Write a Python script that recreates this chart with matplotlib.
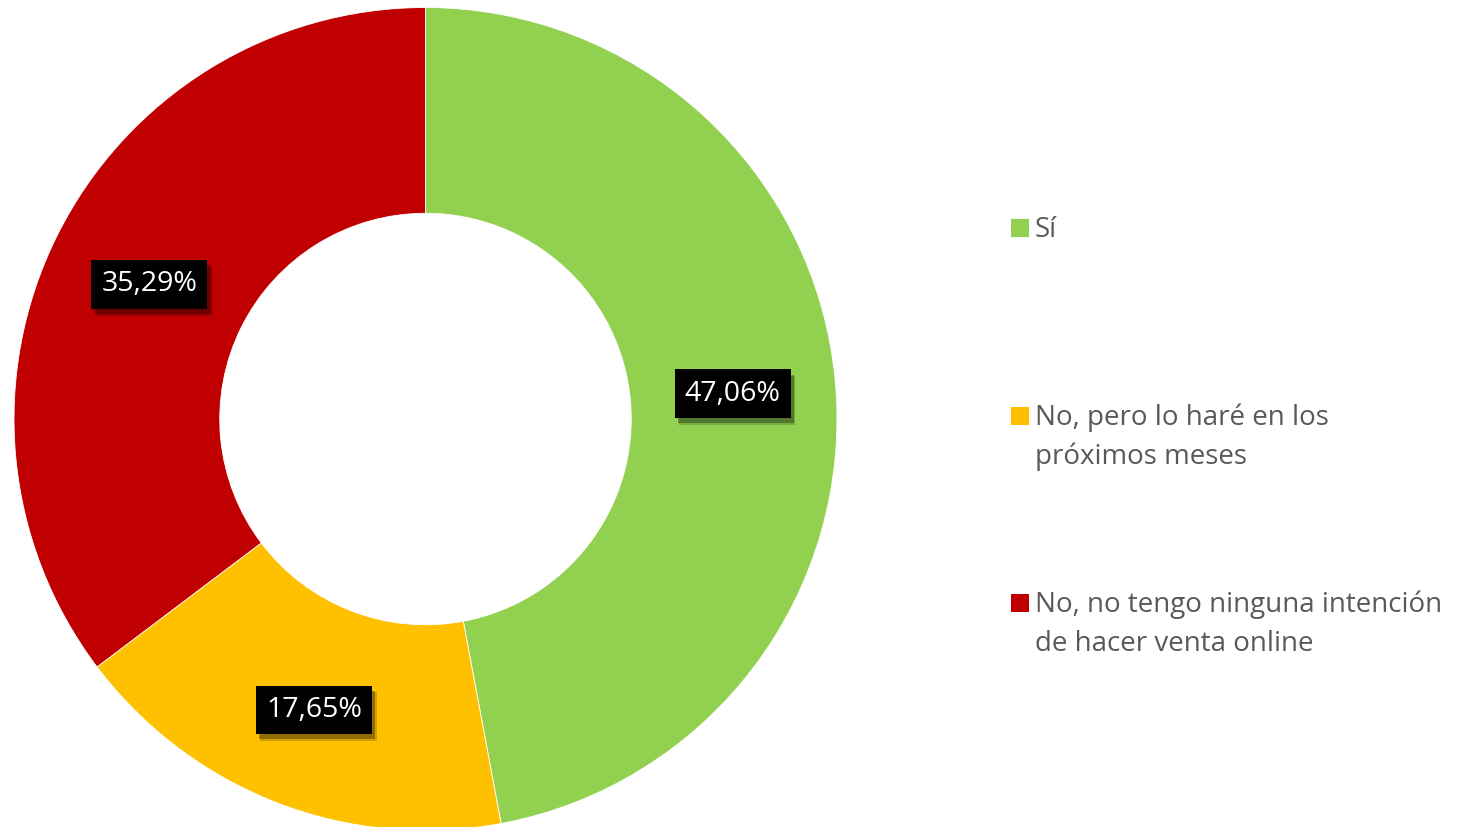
import matplotlib
matplotlib.use("Agg")
import matplotlib.pyplot as plt
import matplotlib.transforms as mtransforms
import matplotlib.patheffects as pe
from matplotlib.patches import Rectangle
import numpy as np

categories = ["Sí", "No, pero lo haré en los\npróximos meses",
              "No, no tengo ninguna intención\nde hacer venta online"]
values = [47.06, 17.65, 35.29]
colors = ["#92D050", "#FFC000", "#C00000"]

W, H = 1465, 827
fig = plt.figure(figsize=(W / 100, H / 100), dpi=100)
fig.patch.set_facecolor("white")

cx, cy, R = 425.5, 419.0, 411.5
ax = fig.add_axes([(cx - R) / W, (H - cy - R) / H, 2 * R / W, 2 * R / H])

wedges, _ = ax.pie(values, colors=colors, startangle=90, counterclock=False,
                   radius=1.0, wedgeprops=dict(width=0.5, edgecolor="white", linewidth=0.6))
ax.set_xlim(-1, 1)
ax.set_ylim(-1, 1)
ax.set_aspect("equal")
ax.axis("off")

total = sum(values)
start = 90.0
fs = 20.5
down = ax.transData + mtransforms.ScaledTranslation(0, -3 / 100, fig.dpi_scale_trans)
for v in values:
    ang = start - v / total * 360 / 2
    start -= v / total * 360
    x = 0.75 * np.cos(np.radians(ang))
    y = 0.75 * np.sin(np.radians(ang))
    lab = f"{v:.2f}%".replace(".", ",")
    t = ax.text(x, y, lab, transform=down, ha="center", va="center", fontsize=fs,
                family="Open Sans", color="white",
                bbox=dict(boxstyle="square,pad=0.36", fc="black", ec="none"))
    t.get_bbox_patch().set_path_effects([
        pe.SimplePatchShadow(offset=(3.2, -5.0), shadow_rgbFace="#000000", alpha=0.18),
        pe.SimplePatchShadow(offset=(2.4, -3.8), shadow_rgbFace="#000000", alpha=0.3),
        pe.Normal()])

# legend (baseline of first line in pixels from top)
leg_base = [237, 425, 612]
line_gap = 39
for lab, col, yb in zip(categories, colors, leg_base):
    fig.patches.append(Rectangle((1011 / W, (H - yb) / H), 18 / W, 18 / H,
                                 transform=fig.transFigure, fc=col, ec="none"))
    for i, line in enumerate(lab.split("\n")):
        fig.text(1035 / W, (H - yb - i * line_gap) / H, line, ha="left", va="baseline",
                 fontsize=20, family="Open Sans", color="#595959",
                 transform=fig.transFigure)

fig.savefig("out.png", dpi=100)
